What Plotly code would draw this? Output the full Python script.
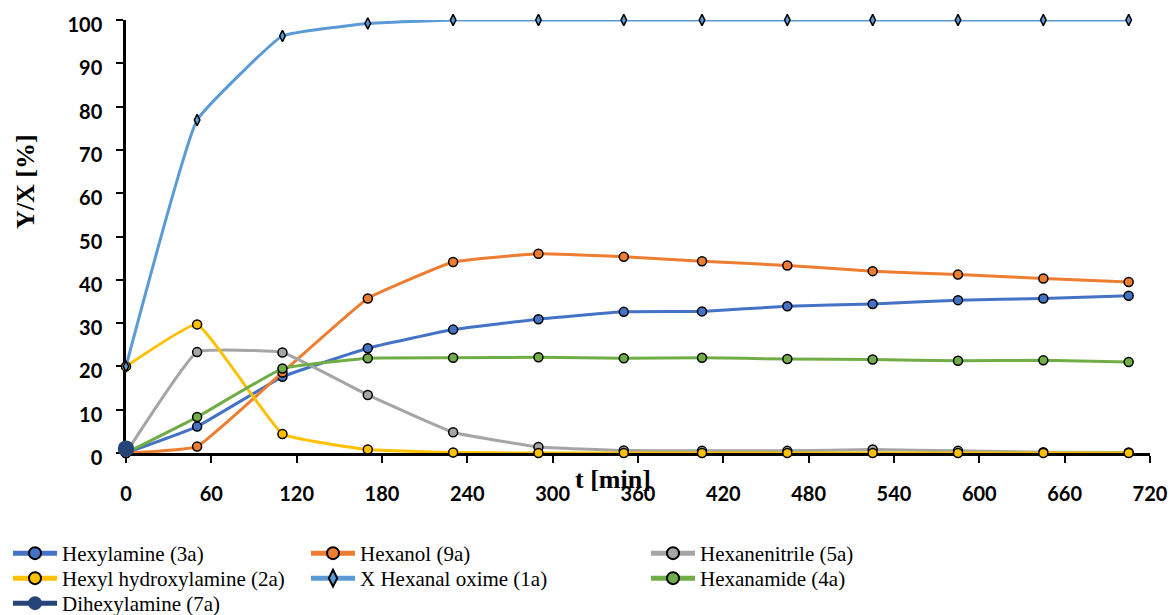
import plotly.graph_objects as go

# Sampling times [min]
t = [0, 50, 110, 170, 230, 290, 350, 405, 465, 525, 585, 645, 705]

# Yields / conversion [%]
hexylamine = [0, 6.1, 17.6, 24.2, 28.5, 30.9, 32.6, 32.7, 33.9, 34.4, 35.3, 35.7, 36.3]
hexanol = [0, 1.5, 18.6, 35.7, 44.1, 46.0, 45.3, 44.3, 43.3, 42.0, 41.2, 40.3, 39.5]
hexanenitrile = [0, 23.3, 23.2, 13.4, 4.8, 1.4, 0.6, 0.5, 0.5, 0.8, 0.5, 0.2, 0.1]
hexyl_hydroxylamine = [20, 29.7, 4.4, 0.8, 0.1, 0, 0, 0, 0, 0, 0, 0, 0]
hexanal_oxime_conv = [20, 76.9, 96.3, 99.2, 100, 100, 100, 100, 100, 100, 100, 100, 100]
hexanamide = [0, 8.3, 19.5, 21.9, 22.0, 22.1, 21.9, 22.0, 21.7, 21.6, 21.3, 21.4, 21.0]
t_dihexylamine = [0]
dihexylamine = [1.0]

x_ticks = [0, 60, 120, 180, 240, 300, 360, 420, 480, 540, 600, 660, 720]
y_ticks = [0, 10, 20, 30, 40, 50, 60, 70, 80, 90, 100]

# plot area in pixels
W, H = 1171, 615
L, R, T, B = 126, 21, 20, 162
PW, PH = W - L - R, H - T - B


def px_x(p):
    return (p - L) / PW


def px_y(p):
    return (H - B - p) / PH


series = [
    # name, x, y, colour, symbol, size, legend box (left px, top px)
    ("Hexylamine (3a)", t, hexylamine, "#4472C4", "circle", 9, (8, 533)),
    ("Hexanol (9a)", t, hexanol, "#ED7D31", "circle", 9, (306, 533)),
    ("Hexanenitrile (5a)", t, hexanenitrile, "#A5A5A5", "circle", 9, (646, 533)),
    ("Hexyl hydroxylamine (2a)", t, hexyl_hydroxylamine, "#FFC000", "circle", 9, (8, 558)),
    ("X Hexanal oxime (1a)", t, hexanal_oxime_conv, "#5B9BD5", "diamond-tall", 8, (306, 558)),
    ("Hexanamide (4a)", t, hexanamide, "#70AD47", "circle", 9, (646, 558)),
    ("Dihexylamine (7a)", t_dihexylamine, dihexylamine, "#264478", "circle", 15, (8, 583)),
]

fig = go.Figure()
legend_layouts = {}
for i, (name, xs, ys, col, sym, size, (lx, ly)) in enumerate(series):
    lname = "legend" if i == 0 else f"legend{i + 1}"
    outline = col if name.startswith("Dihexyl") else "black"
    fig.add_trace(go.Scatter(
        x=xs, y=ys, name=name, mode="lines+markers",
        line=dict(color=col, width=3, shape="spline", smoothing=0.3),
        marker=dict(symbol=sym, size=size, color=col,
                    line=dict(color=outline, width=1.5)),
        cliponaxis=False, legend=lname,
    ))
    legend_layouts[lname] = dict(
        x=px_x(lx), y=px_y(ly), xanchor="left", yanchor="top",
        bgcolor="rgba(0,0,0,0)", itemsizing="constant", itemwidth=44,
        font=dict(family="Liberation Serif", size=21, color="black"),
        tracegroupgap=0,
    )

tick_font = dict(family="Lato", size=20, color="black", weight="bold")

fig.update_layout(
    width=W, height=H,
    margin=dict(l=L, r=R, t=T, b=B, autoexpand=False),
    paper_bgcolor="white", plot_bgcolor="white",
    showlegend=True,
    xaxis=dict(
        range=[0, 720], tickvals=x_ticks, ticktext=[str(v) for v in x_ticks],
        showgrid=False, zeroline=False, showline=True, linecolor="black", linewidth=2.5,
        ticks="outside", ticklen=7, tickwidth=2, tickcolor="black",
        tickfont=tick_font, ticklabelstandoff=14, layer="below traces",
    ),
    yaxis=dict(
        range=[0, 100], tickvals=y_ticks,
        showgrid=False, zeroline=False, showline=True, linecolor="black", linewidth=2.5,
        ticks="outside", ticklen=7, tickwidth=2, tickcolor="black",
        tickfont=tick_font, ticklabelstandoff=10, ticklabelshift=5,
        layer="below traces",
    ),
    annotations=[
        dict(text="<b>t [min]</b>", x=px_x(613), y=px_y(479), xref="paper", yref="paper",
             showarrow=False, xanchor="center", yanchor="middle",
             font=dict(family="Liberation Serif", size=26, color="black")),
        dict(text="<b>Y/X [%]</b>", x=px_x(25), y=px_y(182), xref="paper", yref="paper",
             showarrow=False, xanchor="center", yanchor="middle", textangle=-90,
             font=dict(family="Liberation Serif", size=26, color="black")),
    ],
    **legend_layouts,
)

fig.write_html("out.html")
